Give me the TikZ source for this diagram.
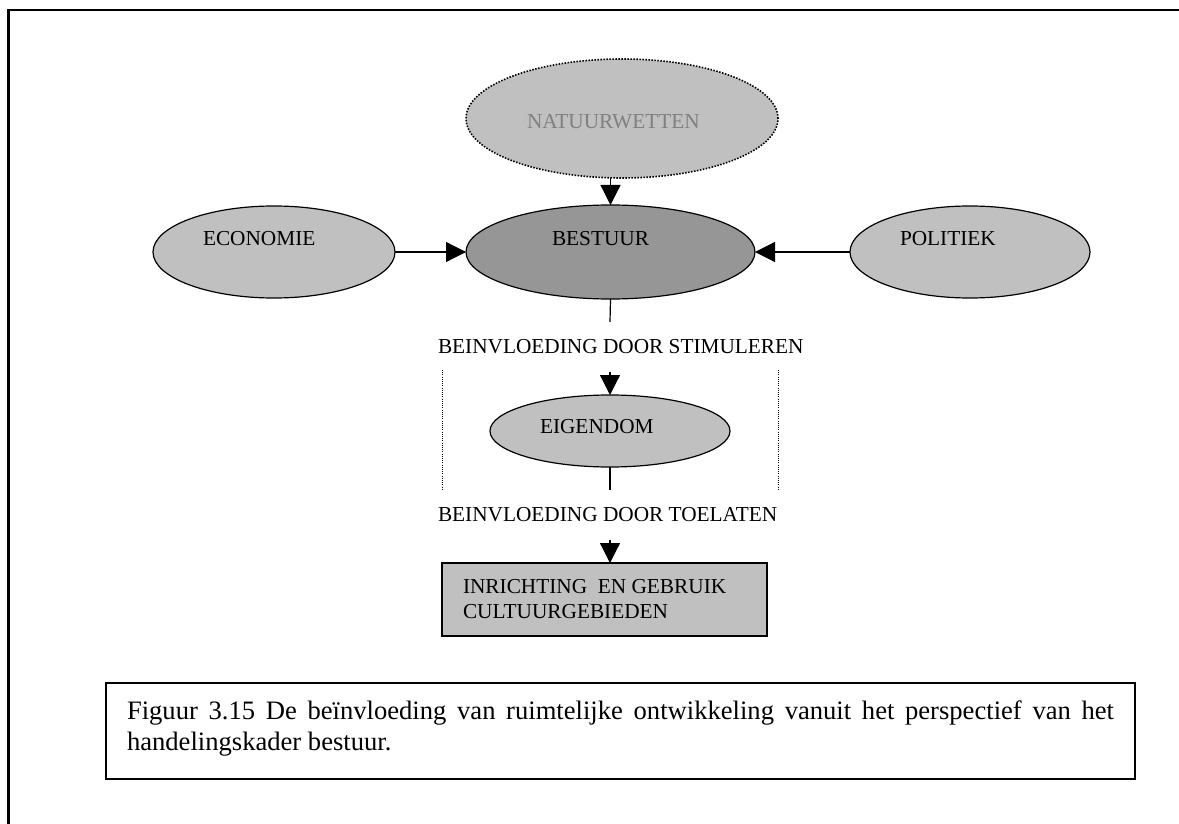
\documentclass[tikz,border=0pt]{standalone}
\usepackage{fontspec}
\setmainfont{Liberation Serif}
\usetikzlibrary{arrows.meta,shapes.geometric}
\definecolor{lightfill}{HTML}{C0C0C0}
\definecolor{darkfill}{HTML}{969696}
\definecolor{fadedtext}{HTML}{808080}
\begin{document}
\begin{tikzpicture}[x=0.5pt,y=-0.5pt,
  oval/.style={ellipse, draw, line width=0.6pt, fill=lightfill, inner sep=0pt, outer sep=0pt},
  label/.style={anchor=base west, inner sep=0pt, outer sep=0pt, font=\fontsize{10.65}{12.5}\selectfont},
  arr/.style={line width=0.6pt, -{Triangle[length=10pt,width=10pt]}},
  plain/.style={line width=0.6pt},
  guide/.style={line width=0.5pt, dash pattern=on 0.5pt off 0.6pt},
]
\useasboundingbox (0,0) rectangle (1179,824);

% outer frame (runs past the right and bottom edges)
\draw[line width=1.3pt] (8.5,830) -- (8.5,10) -- (1185,10);

% ovals
\node[oval, minimum width=156pt, minimum height=59.5pt, line width=0.8pt,
      dash pattern=on 0.75pt off 0.75pt] (nat) at (622,118.5) {};
\node[oval, minimum width=121pt, minimum height=46pt] (eco) at (274,252) {};
\node[oval, minimum width=144.5pt, minimum height=47pt, fill=darkfill] (bes) at (610.5,252) {};
\node[oval, minimum width=120pt, minimum height=46pt] (pol) at (970,252) {};
\node[oval, minimum width=120pt, minimum height=36pt] (eig) at (610,431) {};

% target box
\node[draw, line width=0.7pt, fill=lightfill, rectangle, inner sep=0pt, outer sep=0pt,
      minimum width=162.5pt, minimum height=36.5pt] (inr) at (604.5,599.5) {};

% texts
\node[label, text=fadedtext] (tnat) at (527,129) {NATUURWETTEN};
\node[label] (teco) at (203,245) {ECONOMIE};
\node[label] (tbes) at (552,245) {BESTUUR};
\node[label] (tpol) at (900,245) {POLITIEK};
\node[label] (tstim) at (438,353) {BEINVLOEDING DOOR STIMULEREN};
\node[label] (teig) at (540,433) {EIGENDOM};
\node[label] (ttoe) at (438,521) {BEINVLOEDING DOOR TOELATEN};
\node[label] (tinr1) at (463,593) {INRICHTING\ \ EN GEBRUIK};
\node[label] (tinr2) at (463,618) {CULTUURGEBIEDEN};

% connectors
\coordinate (c1) at (610,322);
\coordinate (c2) at (610,372);
\coordinate (c3) at (610,490);
\coordinate (c4) at (610,540);
\draw[arr] (bes.north |- nat.south) -- (bes.north);
\draw[arr] (eco) -- (bes);
\draw[arr] (pol) -- (bes);
\draw[plain] (bes.south) -- (c1);
\draw[arr] (c2) -- (eig.north);
\draw[plain] (eig.south) -- (c3);
\draw[arr] (c4) -- (c4 |- inr.north);

% dotted guides beside the middle step
\coordinate (g1a) at (442,370);
\coordinate (g1b) at (442,490);
\coordinate (g2a) at (778,370);
\coordinate (g2b) at (778,490);
\draw[guide] (g1a) -- (g1b);
\draw[guide] (g2a) -- (g2b);

% caption box
\draw[line width=1.2pt] (106,683) rectangle (1135,779);
\node[anchor=base west, inner sep=0pt, outer sep=0pt] (cap) at (127,719)
  {\parbox[t]{493.5pt}{\fontsize{13.3}{15.5}\selectfont
   Figuur 3.15 De beïnvloeding van ruimtelijke ontwikkeling vanuit het perspectief van het\linebreak
   handelingskader bestuur.}};
\end{tikzpicture}
\end{document}
